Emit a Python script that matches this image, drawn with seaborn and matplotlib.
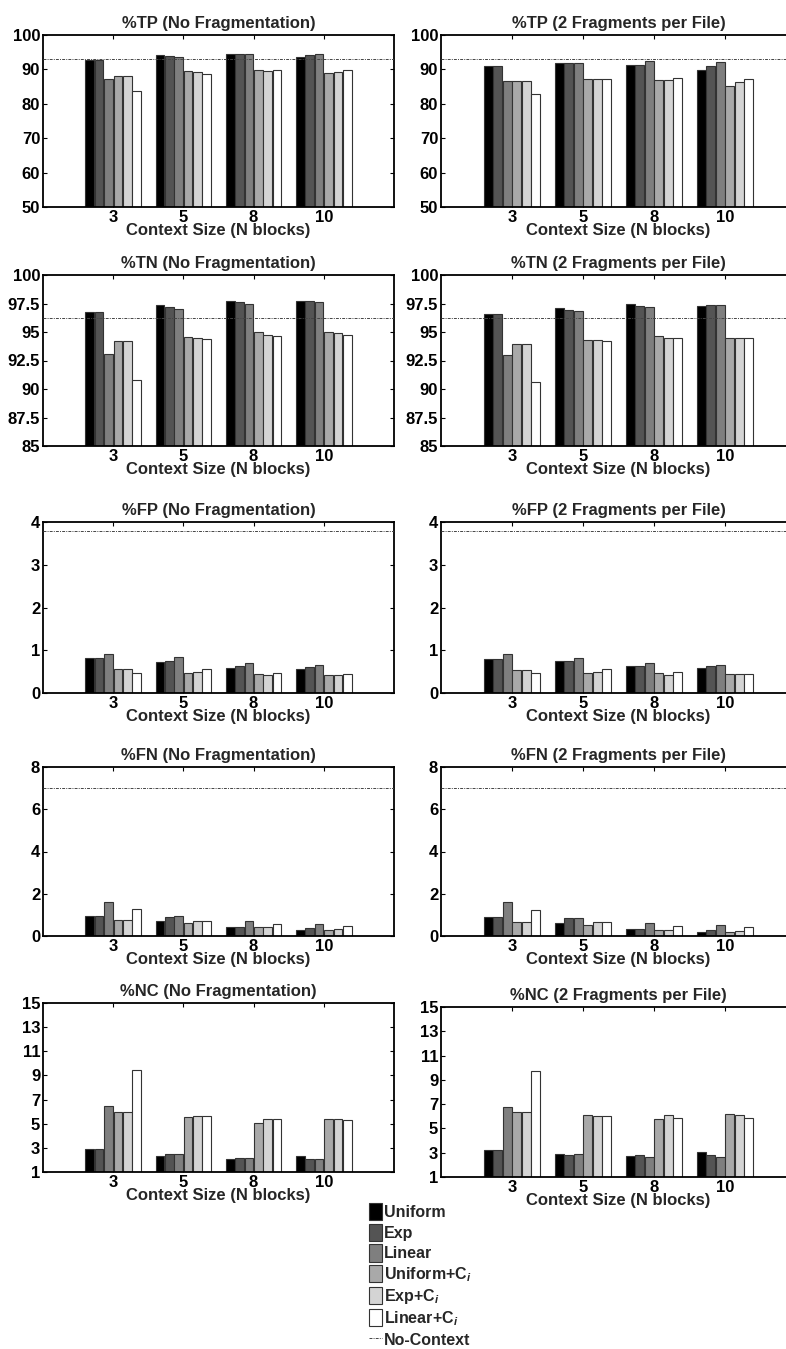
import numpy as np
import pandas as pd
import matplotlib
matplotlib.use("Agg")
import matplotlib.pyplot as plt
import seaborn as sns
from matplotlib.patches import Patch
from matplotlib.lines import Line2D

# ---------------- data ----------------
contexts = ["3", "5", "8", "10"]
methods = ["Uniform", "Exp", "Linear", "Uniform+C$_{i}$", "Exp+C$_{i}$", "Linear+C$_{i}$"]
colors = ["#000000", "#545454", "#7f7f7f", "#a9a9a9", "#d4d4d4", "#ffffff"]
noctx_label = "No-Context"

tp_nofrag = [[92.7, 92.7, 87.1, 88.0, 88.0, 83.7],
             [94.3, 93.8, 93.5, 89.4, 89.1, 88.8],
             [94.4, 94.4, 94.4, 89.7, 89.5, 89.7],
             [93.7, 94.1, 94.4, 88.9, 89.2, 89.7]]
tp_frag = [[91.0, 91.0, 86.6, 86.5, 86.5, 82.9],
           [92.0, 92.0, 92.0, 87.1, 87.3, 87.3],
           [91.4, 91.4, 92.3, 86.8, 86.8, 87.5],
           [89.7, 90.9, 92.2, 85.2, 86.2, 87.3]]
tn_nofrag = [[96.72, 96.72, 93.08, 94.19, 94.19, 90.82],
             [97.36, 97.16, 97.00, 94.52, 94.46, 94.40],
             [97.71, 97.60, 97.42, 95.04, 94.78, 94.66],
             [97.70, 97.70, 97.60, 94.96, 94.87, 94.75]]
tn_frag = [[96.57, 96.57, 92.99, 93.96, 93.96, 90.65],
           [97.07, 96.95, 96.86, 94.28, 94.28, 94.25],
           [97.45, 97.24, 97.18, 94.66, 94.43, 94.43],
           [97.24, 97.33, 97.33, 94.49, 94.49, 94.49]]
fp_nofrag = [[0.82, 0.82, 0.91, 0.55, 0.55, 0.46],
             [0.72, 0.75, 0.84, 0.46, 0.50, 0.56],
             [0.59, 0.63, 0.70, 0.45, 0.43, 0.47],
             [0.55, 0.60, 0.65, 0.42, 0.41, 0.45]]
fp_frag = [[0.80, 0.80, 0.92, 0.54, 0.54, 0.47],
           [0.74, 0.76, 0.82, 0.47, 0.50, 0.55],
           [0.62, 0.64, 0.71, 0.47, 0.43, 0.48],
           [0.59, 0.63, 0.66, 0.45, 0.44, 0.45]]
fn_nofrag = [[0.96, 0.96, 1.61, 0.74, 0.74, 1.28],
             [0.73, 0.90, 0.95, 0.60, 0.73, 0.73],
             [0.44, 0.44, 0.69, 0.41, 0.41, 0.57],
             [0.30, 0.38, 0.58, 0.27, 0.33, 0.49]]
fn_frag = [[0.91, 0.91, 1.62, 0.68, 0.68, 1.23],
           [0.63, 0.84, 0.87, 0.50, 0.68, 0.68],
           [0.35, 0.35, 0.62, 0.30, 0.30, 0.47],
           [0.20, 0.28, 0.50, 0.17, 0.25, 0.43]]
nc_nofrag = [[2.90, 2.90, 6.50, 5.95, 5.95, 9.49],
             [2.32, 2.48, 2.48, 5.53, 5.62, 5.62],
             [2.10, 2.15, 2.15, 5.09, 5.37, 5.37],
             [2.32, 2.07, 2.07, 5.37, 5.37, 5.29]]
nc_frag = [[3.25, 3.25, 6.79, 6.35, 6.35, 9.76],
           [2.92, 2.84, 2.92, 6.13, 6.02, 6.05],
           [2.76, 2.84, 2.67, 5.78, 6.13, 5.89],
           [3.09, 2.84, 2.65, 6.19, 6.13, 5.89]]

noctx_tp = 92.9
noctx_tn = 96.2
noctx_fp = 3.8
noctx_fn = 7.0
noctx_nc = None

tp_ticks = [50, 60, 70, 80, 90, 100]
tn_ticks = [85, 87.5, 90, 92.5, 95, 97.5, 100]
fp_ticks = [0, 1, 2, 3, 4]
fn_ticks = [0, 2, 4, 6, 8]
nc_ticks = [1, 3, 5, 7, 9, 11, 13, 15]

# ---------------- style ----------------
sns.set_style("white")
plt.rcParams["font.family"] = ["Liberation Sans", "DejaVu Sans"]
plt.rcParams["font.weight"] = "bold"
plt.rcParams["mathtext.fontset"] = "custom"
plt.rcParams["mathtext.rm"] = "Liberation Sans:bold"
plt.rcParams["mathtext.it"] = "Liberation Sans:italic:bold"
plt.rcParams["mathtext.bf"] = "Liberation Sans:bold"

W, H = 786, 1349
fig = plt.figure(figsize=(W / 100, H / 100), dpi=100)

left_x = (43, 394)
right_x = (441, 796)
rows_left = [(35, 207), (275, 446), (522, 693), (767, 936), (1003, 1172)]
rows_right = [(35, 207), (275, 446), (522, 693), (767, 936), (1007, 1177)]

panels = [
    ("%TP", tp_nofrag, tp_frag, noctx_tp, tp_ticks),
    ("%TN", tn_nofrag, tn_frag, noctx_tn, tn_ticks),
    ("%FP", fp_nofrag, fp_frag, noctx_fp, fp_ticks),
    ("%FN", fn_nofrag, fn_frag, noctx_fn, fn_ticks),
    ("%NC", nc_nofrag, nc_frag, noctx_nc, nc_ticks),
]

EDGE = "#333333"
LINESTYLE = (0, (3, 1.2, 1, 1.2))


def make_df(vals):
    recs = []
    for ci, c in enumerate(contexts):
        for mi, m in enumerate(methods):
            recs.append({"Context": c, "Method": m, "Value": vals[ci][mi]})
    return pd.DataFrame(recs)


def draw(ax, title, vals, noctx, ticks):
    df = make_df(vals)
    sns.barplot(data=df, x="Context", y="Value", hue="Method",
                order=contexts, hue_order=methods, palette=colors,
                saturation=1, width=0.8, gap=0.08, edgecolor=EDGE,
                linewidth=0.8, errorbar=None, legend=False, ax=ax)
    ax.set_xlim(-1, 4)
    ax.set_ylim(ticks[0], ticks[-1])
    if noctx is not None:
        ax.axhline(noctx, color="#444444", lw=0.7, ls=LINESTYLE, zorder=5)
    ax.set_yticks(ticks)
    ax.set_yticklabels(["%g" % t for t in ticks])
    ax.set_title(title, fontsize=12, fontweight="bold", pad=5)
    ax.set_xlabel("Context Size (N blocks)", fontsize=12, fontweight="bold", labelpad=-1)
    ax.set_ylabel("")
    ax.tick_params(direction="in", length=3, width=0.8, top=True, right=True,
                   bottom=True, left=True, labelsize=12, pad=2, colors="black")
    for lab in ax.get_xticklabels() + ax.get_yticklabels():
        lab.set_fontweight("bold")
    for s in ax.spines.values():
        s.set_visible(True)
        s.set_linewidth(1.3)
        s.set_color("black")


for i, (name, v_nf, v_f, nctx, ticks) in enumerate(panels):
    y0, y1 = rows_left[i]
    axl = fig.add_axes([left_x[0] / W, 1 - y1 / H, (left_x[1] - left_x[0]) / W, (y1 - y0) / H])
    draw(axl, f"{name} (No Fragmentation)", v_nf, nctx, ticks)
    y0, y1 = rows_right[i]
    axr = fig.add_axes([right_x[0] / W, 1 - y1 / H, (right_x[1] - right_x[0]) / W, (y1 - y0) / H])
    draw(axr, f"{name} (2 Fragments per File)", v_f, nctx, ticks)

handles = [Patch(facecolor=c, edgecolor=EDGE, linewidth=0.8) for c in colors]
handles.append(Line2D([], [], color="#444444", lw=0.7, ls=LINESTYLE))
labels = methods + [noctx_label]
fig.legend(handles, labels, loc="upper left", bbox_to_anchor=(369 / W, 1 - 1203 / H),
           frameon=False, prop={"weight": "bold", "size": 11.5},
           handlelength=0.8, handleheight=1.3, handletextpad=0.15,
           labelspacing=0.2, borderpad=0, borderaxespad=0)

fig.savefig("out.png", dpi=100)
